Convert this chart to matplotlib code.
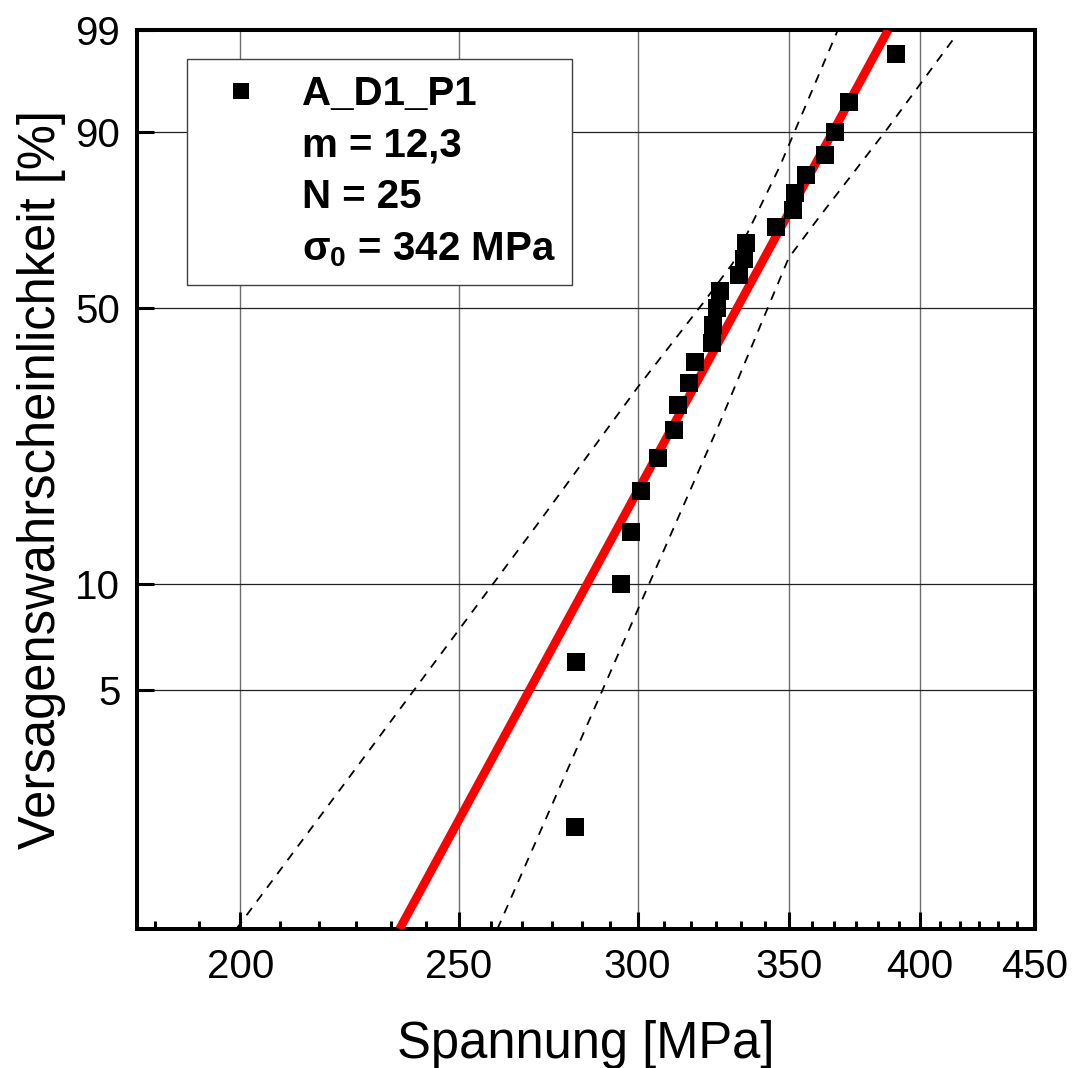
import numpy as np
import matplotlib
matplotlib.use("Agg")
import matplotlib.pyplot as plt
from matplotlib.lines import Line2D
from matplotlib.ticker import FixedLocator, NullLocator, FixedFormatter
from matplotlib.font_manager import FontProperties

plt.rcParams['font.family'] = ['Liberation Sans', 'DejaVu Sans']
plt.rcParams['mathtext.fontset'] = 'custom'
plt.rcParams['mathtext.rm'] = 'Liberation Sans'
plt.rcParams['mathtext.bf'] = 'Liberation Sans:bold'

# ---------------- data ----------------
series_name = "A_D1_P1"
weibull_m = "12,3"
n_samples = 25
sigma0 = 342

stress = [281.3, 281.6, 295.1, 298.1, 301.1, 306.2, 311.5, 312.7, 316.3, 318.0,
          323.5, 324.0, 325.4, 326.3, 332.6, 334.3, 335.2, 345.4, 351.7, 352.1,
          356.1, 363.1, 366.8, 372.1, 390.4]
prob = [2, 6, 10, 14, 18, 22, 26, 30, 34, 38, 42, 46, 50, 54, 58, 62, 66, 70,
        74, 78, 82, 86, 90, 94, 98]

fit_stress = [235.3, 387.4]
fit_prob = [1, 99]

conf_left_stress = [199.2, 271.4, 299.9, 320.7, 330.6, 346.8, 368.0]
conf_left_prob = [1.0, 14.92, 33.10, 51.12, 60.93, 83.72, 99.0]

conf_right_stress = [260.0, 289.5, 326.2, 350.0, 361.2, 386.7, 413.8]
conf_right_prob = [1.0, 5.01, 27.10, 62.26, 72.50, 90.27, 98.65]

x_ticks = [200, 250, 300, 350, 400, 450]
y_ticks = [5, 10, 50, 90, 99]
y_ticklabels = ["5", "10", "50", "90", "99"]

# ---------------- figure ----------------
W, H = 1077, 1068
fig = plt.figure(figsize=(W / 100, H / 100), dpi=100)
ax = fig.add_axes([137 / W, 1 - 929 / H, (1035 - 137) / W, (929 - 30) / H])


def fwd(F):
    F = np.clip(np.asarray(F, dtype=float), 1e-6, 100 - 1e-6)
    return np.log(-np.log(1 - F / 100.0))


def inv(Y):
    Y = np.asarray(Y, dtype=float)
    return 100.0 * (1 - np.exp(-np.exp(Y)))


ax.set_xscale('log')
ax.set_yscale('function', functions=(fwd, inv))
ax.set_xlim(180, 450)
ax.set_ylim(1, 99)

# grid
ax.set_axisbelow(True)
for xv in x_ticks:
    ax.axvline(xv, color='#6e6e6e', lw=1.0, zorder=0.5)
for yv in y_ticks:
    ax.axhline(yv, color='#222222', lw=0.9, zorder=0.5)

# confidence bounds
ax.plot(conf_left_stress, conf_left_prob, color='black', lw=1.3,
        linestyle=(0, (5, 4.5)), zorder=2)
ax.plot(conf_right_stress, conf_right_prob, color='black', lw=1.3,
        linestyle=(0, (5, 4.5)), zorder=2)

# fit line
ax.plot(fit_stress, fit_prob, color='#ff0000', lw=6.2, solid_capstyle='butt', zorder=3)

# data
ax.plot(stress, prob, linestyle='none', marker='s', markersize=13,
        color='black', markeredgewidth=0, zorder=4)

# ticks
ax.xaxis.set_major_locator(FixedLocator(x_ticks))
ax.xaxis.set_major_formatter(FixedFormatter([str(v) for v in x_ticks]))
minor_step = 50 / 6
minors = [v for v in np.arange(175, 451, minor_step)
          if 180 <= v <= 450 and min(abs(v - t) for t in x_ticks) > 1]
ax.xaxis.set_minor_locator(FixedLocator(minors))
ax.xaxis.set_minor_formatter(FixedFormatter([""] * len(minors)))
ax.yaxis.set_major_locator(FixedLocator(y_ticks))
ax.yaxis.set_major_formatter(FixedFormatter(y_ticklabels))
ax.yaxis.set_minor_locator(NullLocator())

ax.tick_params(axis='both', which='major', direction='in', length=12, width=2.2,
               labelsize=29, colors='black')
ax.tick_params(axis='x', which='minor', direction='in', length=6, width=2.2)
ax.tick_params(axis='x', which='both', top=False, pad=14)
ax.tick_params(axis='y', which='both', right=False, pad=12)

for sp in ax.spines.values():
    sp.set_linewidth(2.9)
    sp.set_color('black')

ax.set_xlabel("Spannung [MPa]", fontsize=36.5, labelpad=24)
ax.set_ylabel("Versagenswahrscheinlichkeit [%]", fontsize=36.5, labelpad=7)

# legend
handles = [Line2D([], [], linestyle='none', marker='s', markersize=12, color='black', markeredgewidth=0),
           Line2D([], [], linestyle='none'),
           Line2D([], [], linestyle='none'),
           Line2D([], [], linestyle='none')]
labels = [series_name, f"m = {weibull_m}", f"N = {n_samples}",
          r"σ$_\mathbf{0}$ = " + f"{sigma0} MPa"]
leg = ax.legend(handles, labels, loc='upper left',
                bbox_to_anchor=((187 - 137) / 898, 1 - (59 - 30) / 899),
                borderaxespad=0, frameon=True, fancybox=False, framealpha=1,
                edgecolor='#404040',
                prop=FontProperties(family='Liberation Sans', weight='bold', size=29),
                handlelength=1.886, handletextpad=0.57, borderpad=0.4,
                labelspacing=0.34)
leg.get_frame().set_linewidth(1.0)

fig.savefig("out.png", dpi=100)
